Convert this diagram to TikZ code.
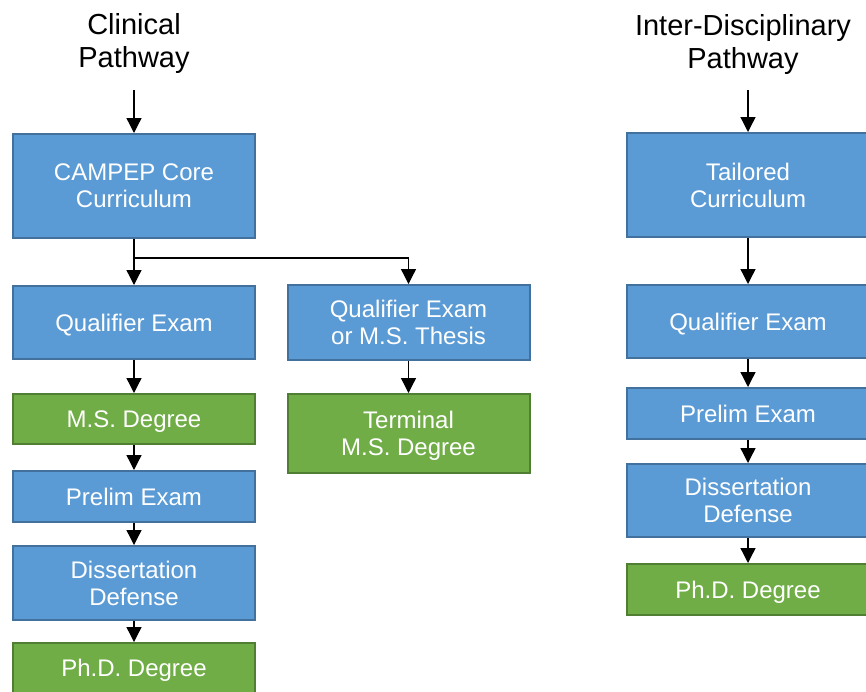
\documentclass[tikz,border=0pt]{standalone}
\usepackage{fontspec}
\setmainfont{Liberation Sans}
\usetikzlibrary{arrows.meta}
\definecolor{bluefill}{HTML}{5B9BD5}
\definecolor{blueline}{HTML}{41719C}
\definecolor{greenfill}{HTML}{70AD47}
\definecolor{greenline}{HTML}{507E32}
\begin{document}
\begin{tikzpicture}[x=1pt,y=-1pt,
 box/.style={draw=blueline, fill=bluefill, line width=2pt, text=white,
   font=\fontsize{24}{27}\selectfont, align=center, minimum width=242pt,
   inner sep=0pt, text depth=0pt},
 bluebox/.style={box},
 greenbox/.style={box, draw=greenline, fill=greenfill},
 title/.style={font=\fontsize{29}{33}\selectfont, align=center, inner sep=0pt},
 arr/.style={-{Triangle[width=15pt,length=15pt]}, line width=1.3pt},
 link/.style={line width=1.3pt}]
\useasboundingbox (0,0) rectangle (866,691);
\fill[white] (0,0) rectangle (866,691);

% titles
\node[title] (t1) at (134,43.5) {Clinical\\Pathway};
\node[title] (t2) at (743,44.5) {Inter-Disciplinary\\Pathway};
\coordinate (s1) at (134,90);
\coordinate (s2) at (748,90);

% left column
\node[bluebox, minimum height=104pt] (campep) at (134,186) {CAMPEP Core\\Curriculum};
\node[bluebox, minimum height=73pt] (q1) at (134,322.5) {Qualifier Exam};
\node[greenbox, minimum height=50pt] (ms) at (134,419) {M.S. Degree};
\node[bluebox, minimum height=51pt] (p1) at (134,496.5) {Prelim Exam};
\node[bluebox, minimum height=74pt] (d1) at (134,583) {Dissertation\\Defense};
\node[greenbox, minimum height=50pt] (phd1) at (134,668) {Ph.D. Degree};

% middle column
\node[bluebox, minimum height=75pt] (qt) at (408.5,322.5) {Qualifier Exam\\or M.S. Thesis};
\node[greenbox, minimum height=79pt] (term) at (408.5,433.5) {Terminal\\M.S. Degree};

% right column
\node[bluebox, minimum height=104pt] (tail) at (748,185) {Tailored\\Curriculum};
\node[bluebox, minimum height=73pt] (q2) at (748,321.5) {Qualifier Exam};
\node[bluebox, minimum height=51pt] (p2) at (748,413.5) {Prelim Exam};
\node[bluebox, minimum height=73pt] (d2) at (748,500.5) {Dissertation\\Defense};
\node[greenbox, minimum height=51pt] (phd2) at (748,589.5) {Ph.D. Degree};

% connectors
\coordinate (br) at (134,258);
\coordinate (brr) at (408.5,258);
\draw[arr] (s1) -- (campep.north);
\draw[link] (campep.south) -- (br);
\draw[arr] (br) -- (q1.north);
\draw[arr] (br) -- (brr) -- (qt.north);
\draw[arr] (q1) -- (ms);
\draw[arr] (ms) -- (p1);
\draw[arr] (p1) -- (d1);
\draw[arr] (d1) -- (phd1);
\draw[arr] (qt) -- (term);

\draw[arr] (s2) -- (tail.north);
\draw[arr] (tail) -- (q2);
\draw[arr] (q2) -- (p2);
\draw[arr] (p2) -- (d2);
\draw[arr] (d2) -- (phd2);
\end{tikzpicture}
\end{document}
